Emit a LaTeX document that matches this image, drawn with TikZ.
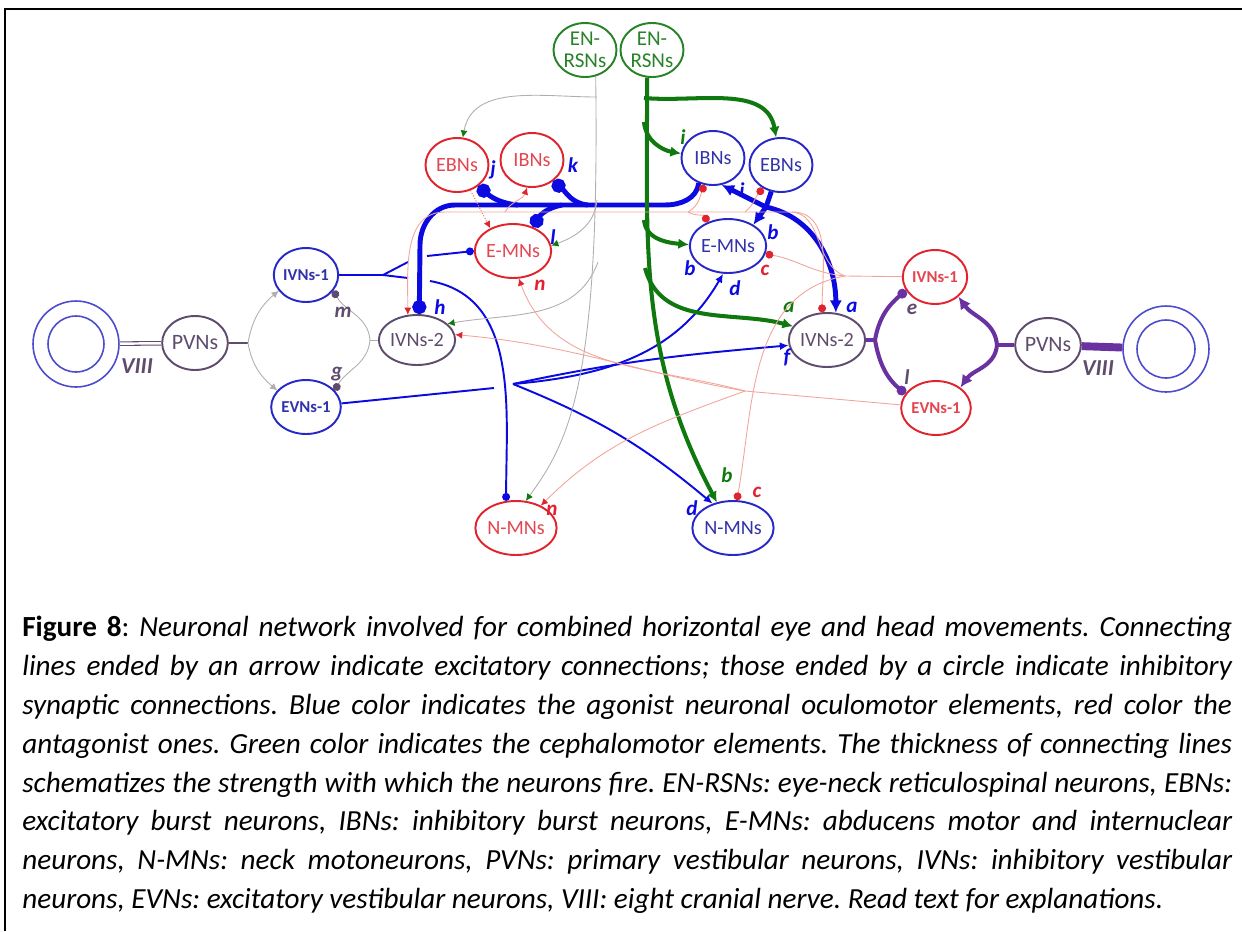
\documentclass[tikz,border=0pt]{standalone}
\usepackage{fontspec}
\setmainfont{Carlito}
\usetikzlibrary{arrows.meta, shapes.geometric, calc}
\frenchspacing

\definecolor{nblue}{RGB}{40,40,200}
\definecolor{tblue}{RGB}{50,50,170}
\definecolor{lblue}{RGB}{10,10,225}
\definecolor{nred}{RGB}{225,35,45}
\definecolor{tred}{RGB}{228,70,80}
\definecolor{lpink}{RGB}{242,165,155}
\definecolor{lorange}{RGB}{240,120,90}
\definecolor{ngreen}{RGB}{40,130,40}
\definecolor{lgreen}{RGB}{15,120,15}
\definecolor{npurp}{RGB}{95,75,110}
\definecolor{lpurp}{RGB}{105,50,160}
\definecolor{eyec}{RGB}{75,75,205}
\definecolor{lgrey}{RGB}{175,175,175}

\newlength\capw
\setlength\capw{24.2cm}
\newcommand\capline[1]{\hbox to \capw{\itshape #1}}

\tikzset{
  cell/.style={ellipse, draw, line width=1.1pt, inner sep=0pt, minimum width=1.26cm, minimum height=1.08cm, font=\fontsize{11.5}{11.5}\selectfont},
  agon/.style={cell, draw=nblue, text=tblue},
  anta/.style={cell, draw=nred, text=tred},
  ceph/.style={cell, draw=ngreen, text=ngreen, align=center, font=\fontsize{12}{12.5}\selectfont},
  vest/.style={cell, draw=npurp, text=npurp},
  tiny/.style={font=\fontsize{9.5}{9.5}\selectfont\bfseries},
  eye/.style={circle, draw=eyec, line width=0.9pt, inner sep=0pt},
  tag/.style={inner sep=0pt, font=\fontsize{12}{12}\selectfont\bfseries\itshape},
  fat/.style={draw=lblue, line width=2.8pt},
  mline/.style={draw=lblue, line width=1.1pt},
  gfat/.style={draw=lgreen, line width=2.3pt},
  pfat/.style={draw=lpurp, line width=2.3pt},
  faint/.style={draw=lpink, line width=0.5pt},
  pale/.style={draw=lgrey, line width=0.5pt},
  bigdot/.style={-{Circle[length=8pt]}},
  inhib/.style={-{Circle[length=4.5pt]}},
  bighead/.style={-{Latex[length=7pt,width=7pt]}},
  mhead/.style={-{Latex[length=5pt,width=4.5pt]}},
  ghead/.style={-{Latex[length=6pt,width=6pt]}},
  phead/.style={-{Latex[length=7pt,width=7pt]}},
  pinhib/.style={-{Circle[length=5.5pt]}},
  gtip/.style={-{Latex[length=4pt,width=4pt,color=lgreen]}},
  rtip/.style={-{Latex[length=4pt,width=4pt,color=nred]}},
  rinhib/.style={-{Circle[length=4.5pt,color=nred]}},
  vtip/.style={-{Latex[length=4pt,width=4pt,color=lgrey]}},
  vinhib/.style={-{Circle[length=4.5pt,color=npurp]}}
}

\begin{document}
\begin{tikzpicture}[x=0.02cm, y=0.02cm]
\useasboundingbox (0,-931) rectangle (1242,0);
% frame
\draw[line width=1.2pt] (5,-931) |- (1242,-9);

% left labyrinth and vestibular nuclei
\node (leye) at (76,-344) [eye, minimum size=1.72cm] {};
\node (leyein) at (leye) [eye, minimum size=1.12cm] {};
\node (lpvn) at (195,-343) [vest, font=\fontsize{12.5}{12.5}\selectfont] {PVNs};
\node (livn1) at (306,-275) [agon, tiny] {IVNs-1};
\node (levn1) at (306,-407) [agon, tiny] {EVNs-1};
\node (livn2) at (417,-340) [vest, minimum height=1.0cm] {IVNs-2};

% brainstem
\node (lrsn) at (585,-50) [ceph] {EN-\\RSNs};
\node (rrsn) at (652,-50) [ceph] {EN-\\RSNs};
\node (lebn) at (457,-165) [anta] {EBNs};
\node (libn) at (532,-160) [anta] {IBNs};
\node (lemn) at (513,-251) [anta] {E-MNs};
\node (ribn) at (713,-158) [agon] {IBNs};
\node (rebn) at (781,-165) [agon] {EBNs};
\node (remn) at (728,-246) [agon] {E-MNs};
\node (lnmn) at (516,-528) [anta] {N-MNs};
\node (rnmn) at (733,-528) [agon] {N-MNs};

% right vestibular nuclei and labyrinth
\node (rivn2) at (827,-340) [vest] {IVNs-2};
\node (rivn1) at (935,-277) [anta, tiny, minimum width=1.16cm] {IVNs-1};
\node (revn1) at (936,-408) [anta, tiny] {EVNs-1};
\node (rpvn) at (1048,-345) [vest, font=\fontsize{12.5}{12.5}\selectfont] {PVNs};
\node (reye) at (1166,-349) [eye, minimum size=1.72cm] {};
\node (reyein) at (reye) [eye, minimum size=1.16cm] {};

% VIII nerves
\draw[draw=npurp, line width=0.6pt, double=white, double distance=1.4pt] (leye) -- (lpvn);
\draw[draw=lpurp, line width=4.5pt] (rpvn) -- (reye);
\node (lviii) at (137,-366) [tag, text=npurp, font=\fontsize{13}{13}\selectfont\bfseries\itshape] {VIII};
\node (rviii) at (1098,-368) [tag, text=npurp, font=\fontsize{13}{13}\selectfont\bfseries\itshape] {VIII};

% left PVNs -> IVNs-1, EVNs-1
\coordinate (lpj) at (248,-343);
\draw[draw=npurp, line width=0.8pt] (lpvn) -- (lpj);
\draw[pale, vtip] (lpj) to[out=80,in=220] (livn1.210);
\draw[pale, vtip] (lpj) to[out=-80,in=140] (levn1.150);

% left IVNs-2 -> IVNs-1, EVNs-1
\coordinate (lvj) at (370,-340);
\draw[pale] (livn2) -- (lvj);
\draw[pale, vinhib] (lvj) to[out=95,in=-60] (livn1.-30);
\draw[pale, vinhib] (lvj) to[out=-95,in=60] (levn1.30);
\node (lm) at (343,-312) [tag, text=npurp] {m};
\node (lg) at (337,-374) [tag, text=npurp] {g};

% right PVNs -> IVNs-1, EVNs-1
\coordinate (rpj) at (997,-345);
\draw[pfat] (rpvn) -- (rpj);
\draw[pfat, phead] (rpj) to[out=95,in=-55] (rivn1.-40);
\draw[pfat, phead] (rpj) to[out=-95,in=55] (revn1.40);

% right IVNs-2 -> IVNs-1, EVNs-1
\coordinate (rvj) at (875,-340);
\draw[pfat] (rivn2) -- (rvj);
\draw[pfat, pinhib] (rvj) to[out=80,in=-140] (rivn1.-155);
\draw[pfat, pinhib] (rvj) to[out=-80,in=140] (revn1.155);
\node (re) at (912,-309) [tag, text=npurp] {e};
\node (rl) at (907,-377) [tag, text=npurp] {l};

% left IVNs-1 outputs
\coordinate (lyj) at (383,-275);
\draw[mline, inhib] (livn1) -- (lyj) -- (408,-262) (427,-256) -- (lemn.west);
\draw[mline, inhib] (lyj) -- (408,-278) (430,-281) to[out=-10,in=90] (lnmn.110);

% left EVNs-1 outputs
\coordinate (lej) at (513,-384);
\draw[mline, mhead] (levn1) -- (494,-388) (lej) to[out=12,in=185] (rivn2.188);
\draw[mline, mhead] (lej) to[out=-22,in=140] (rnmn.130);
\draw[mline, mhead] (lej) to[out=5,in=-120] (remn.-100);
\node (lf) at (787,-357) [tag, text=lblue] {f};
\node (ld1) at (735,-288) [tag, text=lblue] {d};
\node (ld2) at (692,-508) [tag, text=lblue] {d};

% right IBNs inhibition
\coordinate (hr) at (665,-205);
\coordinate (hl) at (455,-205);
\draw[fat, bigdot] (ribn.-120) to[out=-95,in=0] (hr) -- (hl) to[out=180,in=90] (420,-245) -- (livn2.85);
\coordinate (jj) at (518,-205);
\coordinate (kk) at (588,-205);
\coordinate (ll) at (562,-205);
\draw[fat, bigdot] (jj) to[out=175,in=-40] (lebn.-45);
\draw[fat, bigdot] (kk) to[out=175,in=-40] (libn.-45);
\draw[fat, bigdot] (ll) to[out=190,in=60] (lemn.50);
\node (lj) at (493,-170) [tag, text=lblue] {j};
\node (lk) at (573,-165) [tag, text=lblue] {k};
\node (ll2) at (553,-237) [tag, text=lblue] {l};
\node (lh) at (440,-307) [tag, text=lblue] {h};

% right EBNs excitation
\coordinate (ebj) at (766,-207);
\draw[fat] (rebn.-110) -- (ebj);
\draw[fat, bighead] (ebj) -- (ribn.-72);
\draw[fat, bighead] (ebj) -- (remn.40);
\draw[fat, bighead] (ebj) to[out=-12,in=90] (rivn2.72);
\node (ri) at (742,-190) [tag, text=lblue] {i};
\node (rb) at (773,-232) [tag, text=lblue] {b};
\node (ra) at (852,-307) [tag, text=lblue] {a};

% right EN-RSNs
\draw[gfat, ghead] (rrsn.-100) to[out=-90,in=118] (rnmn.122);
\coordinate (g1) at (644,-98);
\coordinate (g2) at (644,-122);
\coordinate (g3) at (644,-220);
\coordinate (g4) at (645,-268);
\draw[gfat, ghead] (g1) to[out=-5,in=100] (rebn.100);
\draw[gfat, ghead] (g2) to[out=-85,in=170] (ribn.172);
\draw[gfat, ghead] (g3) to[out=-85,in=175] (remn.178);
\draw[gfat, ghead] (g4) to[out=-75,in=165] (rivn2.158);
\node (gi) at (683,-137) [tag, text=lgreen] {i};
\node (gb1) at (690,-268) [tag, text=lblue] {b};
\node (ga) at (789,-307) [tag, text=lgreen] {a};
\node (gb2) at (727,-475) [tag, text=lgreen] {b};

% left EN-RSNs
\draw[pale, gtip] (lrsn.-68) .. controls (600,-380) and (570,-440) .. (lnmn.70);
\coordinate (t1) at (597,-97);
\coordinate (t2) at (597,-200);
\coordinate (t3) at (598,-262);
\draw[pale, gtip] (t1) to[out=180,in=80] (lebn.78);
\draw[pale, gtip] (t2) to[out=-95,in=20] (lemn.8);
\draw[pale, gtip] (t3) to[out=-110,in=10] (livn2.28);

% antagonist side
\draw[draw=lorange, line width=0.6pt, densely dotted, rtip] (lebn.-62) -- (lemn.135);
\coordinate (rvi) at (845,-276);
\draw[faint] (rivn1) -- (rvi);
\draw[faint, rtip] (rvi) to[out=160,in=0] (790,-212) -- (445,-212) to[out=180,in=90] (livn2.110);
\coordinate (rb0) at (505,-212);
\coordinate (rb1) at (688,-212);
\coordinate (rb2) at (745,-212);
\coordinate (rb3) at (792,-212);
\draw[faint, rtip] (rb0) to[out=60,in=-110] (libn.-100);
\draw[faint, rinhib] (rb1) to[out=30,in=-110] (ribn.-108);
\draw[faint, rinhib] (rb1) to[out=-30,in=120] (remn.130);
\draw[faint, rinhib] (rb2) to[out=40,in=-130] (rebn.-128);
\draw[faint, rinhib] (rb3) to[out=0,in=90] (rivn2.100);
\draw[faint, rinhib] (rvi) to[out=175,in=-10] (remn.-12);
\draw[faint, rinhib] (rvi) to[out=190,in=80] (rnmn.82);
\coordinate (rve) at (745,-391);
\draw[faint] (revn1) -- (rve);
\draw[faint, rtip] (rve) to[out=170,in=-5] (livn2.8);
\draw[faint, rtip] (rve) to[out=165,in=-70] (lemn.-78);
\draw[faint, rtip] (rve) to[out=-160,in=45] (lnmn.42);
\node (rc1) at (765,-270) [tag, text=nred] {c};
\node (rc2) at (757,-492) [tag, text=nred] {c};
\node (rn1) at (540,-285) [tag, text=nred] {n};
\node (rn2) at (552,-510) [tag, text=nred] {n};

% caption
\node (cap) at (22,-616) [anchor=north west, inner sep=0pt, align=left, font=\fontsize{16.6}{22.1}\selectfont] {%
\capline{{\upshape\bfseries Figure 8}{\upshape :} Neuronal network involved for combined horizontal eye and head movements. Connecting}\\
\capline{lines ended by an arrow indicate excitatory connections; those ended by a circle indicate inhibitory}\\
\capline{synaptic connections. Blue color indicates the agonist neuronal oculomotor elements, red color the}\\
\capline{antagonist ones. Green color indicates the cephalomotor elements. The thickness of connecting lines}\\
\capline{schematizes the strength with which the neurons fire. EN-RSNs: eye-neck reticulospinal neurons, EBNs:}\\
\capline{excitatory burst neurons, IBNs: inhibitory burst neurons, E-MNs: abducens motor and internuclear}\\
\capline{neurons, N-MNs: neck motoneurons, PVNs: primary vestibular neurons, IVNs: inhibitory vestibular}\\
\capline{neurons, EVNs: excitatory vestibular neurons, VIII: eight cranial nerve. Read text for explanations.\hfil}};
\end{tikzpicture}
\end{document}
